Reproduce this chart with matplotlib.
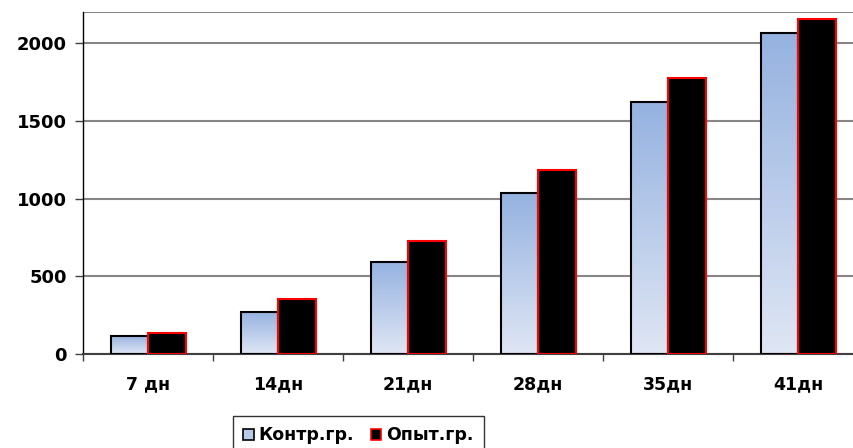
import numpy as np
import matplotlib
matplotlib.use("Agg")
import matplotlib.pyplot as plt
from matplotlib.patches import Patch
from matplotlib.colors import LinearSegmentedColormap

# data
days = ["7 дн", "14дн", "21дн", "28дн", "35дн", "41дн"]
kontr = [119, 273, 592, 1036, 1619, 2066]
opyt = [138, 356, 726, 1181, 1776, 2154]
yticks = [0, 500, 1000, 1500, 2000]

plt.rcParams['font.family'] = ['DejaVu Sans']
plt.rcParams['font.weight'] = 'bold'

fig = plt.figure(figsize=(8.54, 4.48), dpi=100)
ax = fig.add_axes([83.3 / 854, 1 - 354.3 / 448, 780 / 854, (354.3 - 11.9) / 448])

bw = 0.287
x = np.arange(len(days))
grad = LinearSegmentedColormap.from_list("g", ["#dfe6f4", "#95b2e0"])
gimg = np.linspace(0, 1, 100).reshape(-1, 1)

for xi, v in zip(x, kontr):
    ax.imshow(gimg, cmap=grad, origin='lower', aspect='auto',
              extent=[xi - bw, xi, 0, v], zorder=2)
ax.bar(x - bw / 2, kontr, bw, facecolor='none', edgecolor='black', linewidth=1.5, zorder=3)
ax.bar(x + bw / 2, opyt, bw, facecolor='black', edgecolor='red', linewidth=1.5, zorder=3)

ax.set_xlim(-0.5, len(days) - 0.5)
ax.set_ylim(0, 2200)
ax.set_yticks(yticks)
ax.set_yticklabels([str(t) for t in yticks], fontsize=13, fontweight='bold')
ax.yaxis.grid(True, color='#868686', linewidth=1.5)
ax.set_axisbelow(True)

ax.set_xticks(x)
ax.set_xticklabels(days, fontsize=12.5, fontweight='bold')
ax.set_xticks(np.arange(len(days) + 1) - 0.5, minor=True)
ax.tick_params(axis='x', which='major', length=0, pad=15)
ax.tick_params(axis='x', which='minor', length=5, width=1, color='#404040', direction='out')
ax.tick_params(axis='y', length=6, width=1, color='#404040', pad=6)

for s in ['top', 'right']:
    ax.spines[s].set_visible(False)
ax.axhline(2200, color='#868686', linewidth=1.5, zorder=1)
ax.spines['left'].set_color('black')
ax.spines['left'].set_linewidth(1)
ax.spines['bottom'].set_color('#404040')
ax.spines['bottom'].set_linewidth(1.5)

handles = [Patch(facecolor='#b8c9ea', edgecolor='black', linewidth=1.2, label='Контр.гр.'),
           Patch(facecolor='black', edgecolor='red', linewidth=1.2, label='Опыт.гр.')]
leg = fig.legend(handles=handles, loc='upper left', bbox_to_anchor=(233 / 854, 1 - 416 / 448),
                 borderaxespad=0, ncol=2, frameon=True, fancybox=False,
                 handlelength=0.6, handleheight=0.6, handletextpad=0.25,
                 columnspacing=1.0, borderpad=0.6,
                 prop={'size': 12.5, 'weight': 'bold'})
leg.get_frame().set_edgecolor('black')
leg.get_frame().set_linewidth(1)

fig.savefig("out.png", dpi=100)
